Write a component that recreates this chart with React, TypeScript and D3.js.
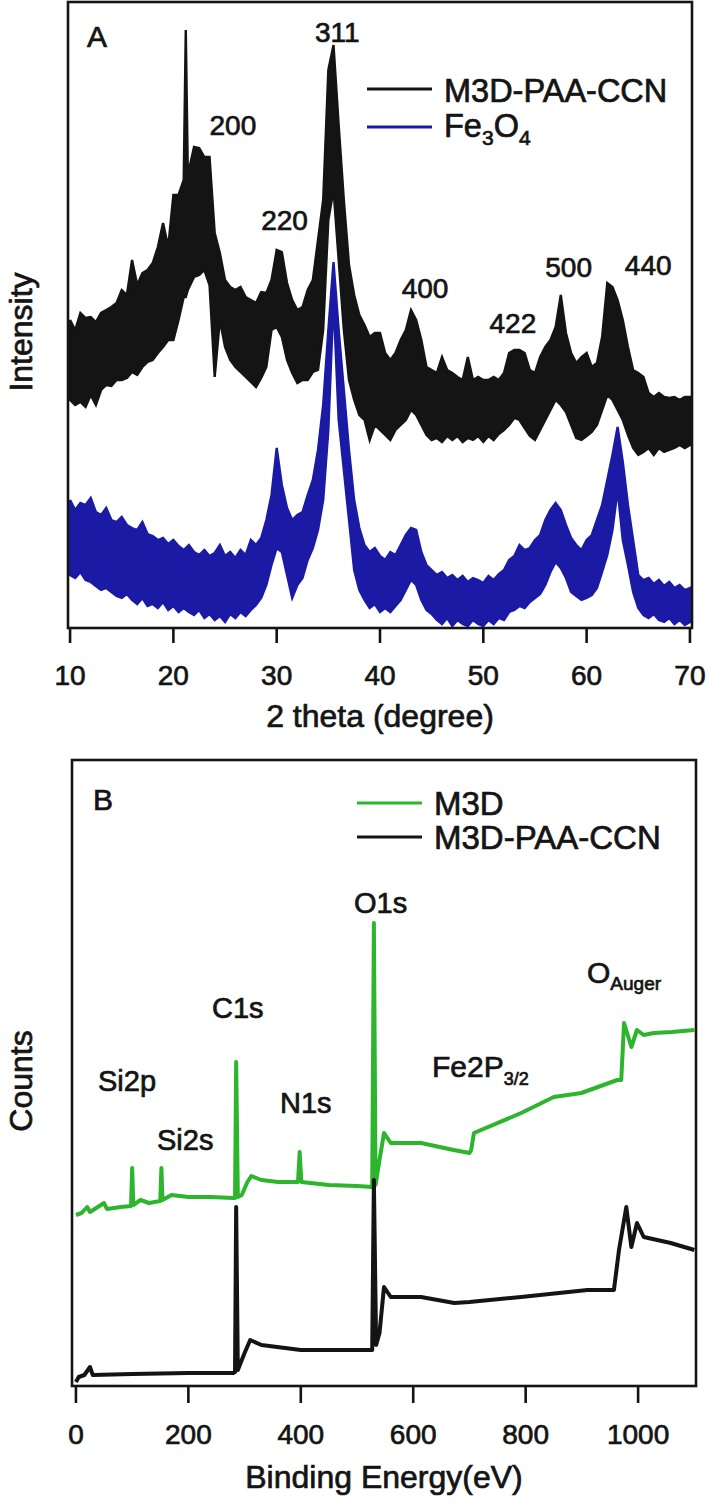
import React from "react";
import * as d3 from "d3";

// ---------- Panel A : XRD ----------
const xrdTicks = [10, 20, 30, 40, 50, 60, 70];

const blackAngles = [10,10.5,11,11.5,12,12.5,13,13.5,14,14.5,15,15.5,16,16.5,17,17.5,18,18.5,19,19.5,20,20.5,21,21.2,21.4,22,22.5,23,23.5,24,24.5,25,25.5,26,26.5,27,27.5,28,28.5,29,29.5,30,30.5,31,31.5,32,32.5,33,33.5,34,34.5,35,35.5,36,36.5,37,37.5,38,38.5,39,39.5,40,40.5,41,41.5,42,42.5,43,43.5,44,44.5,45,45.5,46,46.5,47,47.5,48,48.5,49,49.5,50,50.5,51,51.5,52,52.5,53,53.5,54,54.5,55,55.5,56,56.5,57,57.5,58,58.5,59,59.5,60,60.5,61,61.5,62,62.5,63,63.5,64,64.5,65,65.5,66,66.5,67,67.5,68,68.5,69,69.5,70];
const blackHigh = [308,298,315,310,311,306,315,318,321,325,338,333,368,343,355,358,365,381,405,381,433,433,448,598,453,481,480,471,471,395,375,348,341,338,341,331,328,325,336,335,348,378,376,345,328,318,321,338,348,388,428,558,583,503,428,363,333,313,303,291,295,295,275,268,275,288,298,318,308,288,261,258,255,271,258,255,251,248,271,248,251,248,248,251,248,255,275,278,278,275,258,255,271,281,288,301,333,295,275,265,271,275,261,265,291,345,341,328,308,281,258,255,251,235,231,235,231,230,231,228,231,231];
const blackLow = [228,223,226,221,233,223,238,243,242,248,248,250,256,253,261,266,268,275,281,288,288,308,331,331,338,351,353,358,343,251,308,281,268,261,256,251,246,241,250,261,298,301,291,268,255,245,248,248,256,258,298,408,438,368,298,248,228,213,208,188,203,198,193,188,198,203,208,218,213,203,193,188,190,186,192,188,192,186,190,188,192,186,192,188,194,198,203,210,208,200,192,188,198,208,218,228,223,216,203,190,188,192,196,203,218,233,228,218,208,193,180,173,176,180,173,180,176,178,180,183,180,183];

const blueAngles = [10,10.5,11,11.5,12,12.5,13,13.5,14,14.5,15,15.5,16,16.5,17,17.5,18,18.5,19,19.5,20,20.5,21,21.5,22,22.5,23,23.5,24,24.5,25,25.5,26,26.5,27,27.5,28,28.5,29,29.5,30,30.5,31,31.5,32,32.5,33,33.5,34,34.5,35,35.5,36,36.5,37,37.5,38,38.5,39,39.5,40,40.5,41,41.5,42,42.5,43,43.5,44,44.5,45,45.5,46,46.5,47,47.5,48,48.5,49,49.5,50,50.5,51,51.5,52,52.5,53,53.5,54,54.5,55,55.5,56,56.5,57,57.5,58,58.5,59,59.5,60,60.5,61,61.5,62,62.5,63,63.5,64,64.5,65,65.5,66,66.5,67,67.5,68,68.5,69,69.5,70];
const blueHigh = [128,118,125,123,130,116,113,120,108,106,111,103,100,98,106,94,92,88,90,84,88,82,78,83,76,73,78,72,75,83,72,76,70,78,73,88,83,90,108,133,180,143,120,108,113,116,133,148,178,223,298,366,298,238,178,128,100,83,76,80,72,68,76,73,83,93,100,98,76,63,58,53,56,50,53,48,52,46,50,48,45,52,48,54,58,68,72,83,78,80,88,93,108,118,125,118,103,90,83,78,88,93,108,123,148,173,201,166,123,88,53,48,50,44,48,42,46,40,43,38,40];
const blueLow = [53,50,56,48,46,42,38,40,36,32,30,34,28,24,30,22,24,20,26,18,22,16,20,16,13,18,10,14,8,12,6,14,10,16,12,18,23,30,43,63,80,76,53,30,43,50,68,80,98,128,198,328,208,158,108,58,38,28,20,24,16,20,16,22,28,38,48,43,28,18,14,8,4,10,2,8,4,2,8,4,2,8,4,10,8,16,18,22,20,26,30,34,43,56,66,60,50,36,32,28,30,33,40,56,73,98,138,88,63,36,20,13,10,14,8,6,10,4,8,3,6];

const xrdPeakLabels = ["311", "200", "220", "400", "422", "500", "440"];
const xrdPeakAngles = [33.7, 23.5, 28.5, 42.1, 50.6, 56.0, 63.7];
const xrdPeakHeights = [586, 493, 398, 330, 295, 351, 353];

// ---------- Panel B : XPS ----------
const xpsTicks = [0, 200, 400, 600, 800, 1000];

const greenEnergy = [0,10,20,25,50,55,80,98,100,102,115,130,150,152,154,170,200,240,280,283,285,288,295,305,312,330,360,395,398,401,450,500,527,530,533,540,548,560,614,672,700,703,708,792,850,899,963,970,975,988,998,1010,1028,1060,1100];
const greenCounts = [171,173,179,174,183,177,179,180,218,181,186,183,185,218,186,191,189,189,188,188,324,189,191,204,210,206,204,204,234,204,201,200,199,463,201,226,253,243,243,236,233,236,253,273,289,293,306,306,363,339,356,351,353,354,356];

const darkEnergy = [0,5,15,25,30,100,200,280,283,285,288,300,310,330,400,500,527,530,534,540,548,560,614,673,700,792,910,957,966,979,988,998,1010,1058,1100];
const darkCounts = [4,9,11,19,11,12,13,13,14,179,16,33,46,41,36,36,36,206,41,53,99,89,89,83,84,89,96,96,136,179,139,163,149,143,136];

const FONT = "'Liberation Sans', Arial, Helvetica, sans-serif";
const INK = "#141414";
const BLUE = "#1a1aa4";
const GREEN = "#2db52d";

const txt = { fill: INK, stroke: INK, strokeWidth: 0.7 };

export default function App() {
  // Panel A geometry
  const aL = 68, aR = 692, aT = 2, aB = 628;
  const xA = d3.scaleLinear().domain([9.8, 70.2]).range([aL, aR]);
  const yA = d3.scaleLinear().domain([0, 626]).range([aB, aT]);

  // Panel B geometry
  const bL = 72, bR = 696, bT = 760, bB = 1386;
  const xB = d3.scaleLinear().domain([-7, 1103]).range([bL, bR]);
  const yB = d3.scaleLinear().domain([0, 626]).range([bB, bT]);

  const blackData = blackAngles.map((a, i) => ({ a, hi: blackHigh[i], lo: blackLow[i] }));
  const blueData = blueAngles.map((a, i) => ({ a, hi: blueHigh[i], lo: blueLow[i] }));
  const areaA = d3
    .area<{ a: number; hi: number; lo: number }>()
    .x((d) => xA(d.a))
    .y0((d) => yA(d.lo))
    .y1((d) => yA(d.hi));

  const lineB = d3
    .line<[number, number]>()
    .x((d) => xB(d[0]))
    .y((d) => yB(d[1]));
  const greenPts = greenEnergy.map((e, i) => [e, greenCounts[i]] as [number, number]);
  const darkPts = darkEnergy.map((e, i) => [e, darkCounts[i]] as [number, number]);

  const tickLen = 15;

  return (
    <svg
      width={708}
      height={1503}
      viewBox="0 0 708 1503"
      style={{ position: "absolute", left: 0, top: 0, background: "#fff" }}
      fontFamily={FONT}
    >
      <rect x={0} y={0} width={708} height={1503} fill="#fff" />
      <defs>
        <clipPath id="clipA">
          <rect x={aL} y={aT} width={aR - aL} height={aB - aT} />
        </clipPath>
        <clipPath id="clipB">
          <rect x={bL} y={bT} width={bR - bL} height={bB - bT} />
        </clipPath>
      </defs>

      {/* ---------------- Panel A ---------------- */}
      <g clipPath="url(#clipA)">
        <path d={areaA(blueData) || ""} fill={BLUE} stroke={BLUE} strokeWidth={2.4} strokeLinejoin="miter" />
        <path d={areaA(blackData) || ""} fill={INK} stroke={INK} strokeWidth={2.4} strokeLinejoin="miter" />
      </g>
      <rect x={aL} y={aT} width={aR - aL} height={aB - aT} fill="none" stroke={INK} strokeWidth={2.6} />
      {xrdTicks.map((t) => (
        <g key={"ta" + t}>
          <line x1={xA(t)} x2={xA(t)} y1={aB} y2={aB + tickLen} stroke={INK} strokeWidth={2.6} />
          <text x={xA(t)} y={aB + 57} fontSize={28} textAnchor="middle" {...txt}>
            {t}
          </text>
        </g>
      ))}
      <text x={(aL + aR) / 2} y={727} fontSize={32} textAnchor="middle" {...txt}>
        2 theta (degree)
      </text>
      <text transform={`translate(32, ${332}) rotate(-90)`} fontSize={32} textAnchor="middle" {...txt}>
        Intensity
      </text>
      <text x={87} y={47} fontSize={30} {...txt}>A</text>

      {xrdPeakLabels.map((lab, i) => (
        <text key={lab} x={xA(xrdPeakAngles[i])} y={yA(xrdPeakHeights[i])} fontSize={28} {...txt}>
          {lab}
        </text>
      ))}

      {/* Legend A */}
      <line x1={367} x2={432} y1={89} y2={89} stroke={INK} strokeWidth={3} />
      <text x={444} y={102} fontSize={32.5} {...txt}>M3D-PAA-CCN</text>
      <line x1={367} x2={432} y1={127} y2={127} stroke={BLUE} strokeWidth={3} />
      <text x={444} y={137} fontSize={32.5} {...txt}>
        Fe<tspan fontSize={21} dy={8}>3</tspan>
        <tspan fontSize={32.5} dy={-8}>O</tspan>
        <tspan fontSize={21} dy={8}>4</tspan>
      </text>

      {/* ---------------- Panel B ---------------- */}
      <g clipPath="url(#clipB)">
        <path d={lineB(greenPts) || ""} fill="none" stroke={GREEN} strokeWidth={4} strokeLinejoin="round" />
        <path d={lineB(darkPts) || ""} fill="none" stroke={INK} strokeWidth={4} strokeLinejoin="round" />
      </g>
      <rect x={bL} y={bT} width={bR - bL} height={bB - bT} fill="none" stroke={INK} strokeWidth={2.6} />
      {xpsTicks.map((t) => (
        <g key={"tb" + t}>
          <line x1={xB(t)} x2={xB(t)} y1={bB} y2={bB + tickLen + 2} stroke={INK} strokeWidth={2.6} />
          <text x={xB(t)} y={bB + 58} fontSize={28} textAnchor="middle" {...txt}>
            {t}
          </text>
        </g>
      ))}
      <text x={(bL + bR) / 2} y={1488} fontSize={32} textAnchor="middle" {...txt}>
        Binding Energy(eV)
      </text>
      <text transform={`translate(32, ${1081}) rotate(-90)`} fontSize={32} textAnchor="middle" {...txt}>
        Counts
      </text>
      <text x={93} y={810} fontSize={30} {...txt}>B</text>

      {/* Legend B */}
      <line x1={357} x2={422} y1={803} y2={803} stroke={GREEN} strokeWidth={3} />
      <text x={434} y={815} fontSize={33} {...txt}>M3D</text>
      <line x1={357} x2={422} y1={837} y2={837} stroke={INK} strokeWidth={3} />
      <text x={434} y={849} fontSize={33} {...txt}>M3D-PAA-CCN</text>

      {/* XPS peak labels */}
      <text x={354} y={913} fontSize={29} {...txt}>O1s</text>
      <text x={212} y={1018} fontSize={29} {...txt}>C1s</text>
      <text x={98} y={1091} fontSize={29} {...txt}>Si2p</text>
      <text x={280} y={1113} fontSize={29} {...txt}>N1s</text>
      <text x={157} y={1150} fontSize={29} {...txt}>Si2s</text>
      <text x={432} y={1077} fontSize={30} {...txt}>
        Fe2P<tspan fontSize={18} dy={8}>3/2</tspan>
      </text>
      <text x={587} y={983} fontSize={30} {...txt}>
        O<tspan fontSize={19} dy={7}>Auger</tspan>
      </text>
    </svg>
  );
}
